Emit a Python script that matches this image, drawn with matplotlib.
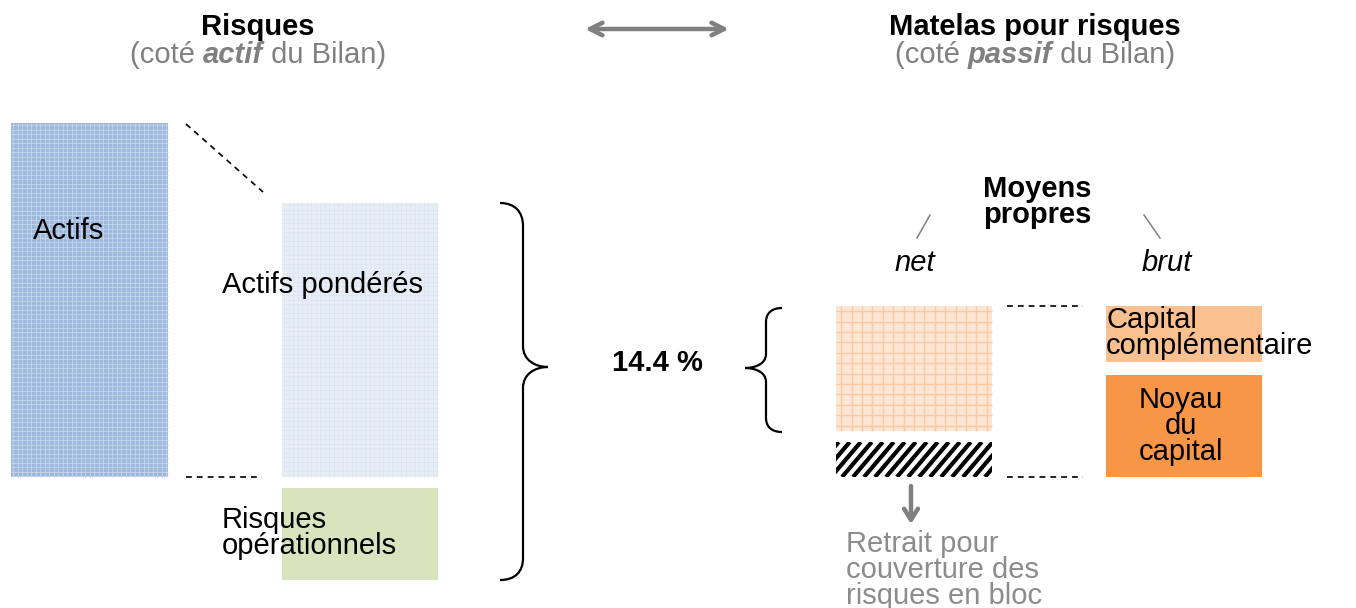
import matplotlib
matplotlib.use("Agg")
import matplotlib.pyplot as plt
from matplotlib.patches import Rectangle, PathPatch
from matplotlib.path import Path
import numpy as np

plt.rcParams['font.family'] = ['Liberation Sans', 'DejaVu Sans']

# ---------------- data / labels ----------------
title_left = "Risques"
subtitle_left = [("(coté ", "normal", "normal"), ("actif", "bold", "italic"), (" du Bilan)", "normal", "normal")]
title_right = "Matelas pour risques"
subtitle_right = [("(coté ", "normal", "normal"), ("passif", "bold", "italic"), (" du Bilan)", "normal", "normal")]
label_actifs = "Actifs"
label_ponderes = "Actifs pondérés"
label_oper = "Risques\nopérationnels"
ratio_label = "14.4 %"
label_moyens = "Moyens\npropres"
label_net = "net"
label_brut = "brut"
label_comp = "Capital\ncomplémentaire"
label_noyau = "Noyau\ndu\ncapital"
label_retrait = "Retrait pour\ncouverture des\nrisques en bloc"

FS = 21
LS = 0.92
GRAY = "#808080"

W, H = 1356, 608
fig = plt.figure(figsize=(W / 100, H / 100), dpi=100)
ax = fig.add_axes([0, 0, 1, 1])
ax.set_xlim(0, W)
ax.set_ylim(H, 0)
ax.axis('off')


def box(x0, y0, x1, y1, color, z=1):
    r = Rectangle((x0, y0), x1 - x0, y1 - y0, facecolor=color, edgecolor='none', zorder=z)
    ax.add_patch(r)
    return r


def grid_box(x0, y0, x1, y1, base, line, step, lw, alpha=1.0):
    box(x0, y0, x1, y1, base)
    xs = np.arange(x0 + step / 2, x1, step)
    ys = np.arange(y0 + step / 2, y1, step)
    ax.vlines(xs, y0, y1, colors=line, lw=lw, alpha=alpha, zorder=2)
    ax.hlines(ys, x0, x1, colors=line, lw=lw, alpha=alpha, zorder=2)


# Actifs (dense blue plaid)
grid_box(11, 123, 168, 477, "#9fb9de", "#c6d6ed", 4.5, 0.7, 0.85)
# Actifs pondérés (light blue fine grid)
grid_box(282, 203, 438, 477, "#e8eef8", "#dbe4f2", 4.5, 0.6, 0.8)
# Risques opérationnels
box(282, 488, 438, 580, "#d7e4bd")
# net box (orange grid)
grid_box(836, 306, 992, 431, "#fde5d3", "#fac9a2", 10.4, 1.0)
# hatched box
hb = box(836, 442, 992, 477, "white")
hh = 477 - 442
for xs in np.arange(836 - 60, 992 + 60, 11):
    ln, = ax.plot([xs, xs + 0.85 * hh], [477, 442], color='black', lw=3.0, solid_capstyle='butt', zorder=3)
    ln.set_clip_path(hb)
# brut boxes
box(1106, 306, 1262, 362, "#fac08f")
box(1106, 375, 1262, 477, "#f79646")

# dashed connectors
dash = dict(color='black', lw=1.2, ls=(0, (3.5, 3)), zorder=3)
ax.plot([186, 263], [124, 192], **dash)
ax.plot([186, 262], [477, 477], **dash)
ax.plot([1007, 1083], [306, 306], **dash)
ax.plot([1007, 1083], [477, 477], **dash)

# slashes
ax.plot([930, 917], [215, 238], color=GRAY, lw=1.1)
ax.plot([1144, 1160], [215, 238], color=GRAY, lw=1.1)

# braces
M, L, C = Path.MOVETO, Path.LINETO, Path.CURVE4
big = [(500, 203), (515, 203), (523, 212), (523, 226), (523, 346),
       (523, 360), (535, 367), (548, 367),
       (535, 367), (523, 374), (523, 388), (523, 558),
       (523, 572), (515, 580), (500, 580)]
codes = [M, C, C, C, L, C, C, C, C, C, C, L, C, C, C]
ax.add_patch(PathPatch(Path(big, codes), fill=False, lw=1.6, ec='black', zorder=4))
small = [(782, 308), (772, 308), (766, 313), (766, 322), (766, 354),
         (766, 364), (755, 368), (745, 368),
         (755, 368), (766, 372), (766, 382), (766, 418),
         (766, 427), (772, 432), (782, 432)]
ax.add_patch(PathPatch(Path(small, codes), fill=False, lw=1.6, ec='black', zorder=4))

# arrows
ax.annotate("", xy=(585, 29), xytext=(729, 29),
            arrowprops=dict(arrowstyle="<->,head_length=0.9,head_width=0.45", color=GRAY, lw=3.2,
                            shrinkA=0, shrinkB=0))
ax.annotate("", xy=(911, 524), xytext=(911, 486),
            arrowprops=dict(arrowstyle="->,head_length=0.8,head_width=0.5", color=GRAY, lw=3.2,
                            shrinkA=0, shrinkB=0))

# texts
T = dict(fontsize=FS, va='center', zorder=6)
ax.text(258, 27, title_left, ha='center', fontweight='bold', **T)
ax.text(1035, 27, title_right, ha='center', fontweight='bold', **T)

ax.text(33, 231, label_actifs, ha='left', **T)
ax.text(222, 285, label_ponderes, ha='left', **T)
ax.text(222, 533, label_oper, ha='left', linespacing=LS, **T)
ax.text(657, 363, ratio_label, ha='center', fontweight='bold', **T)
ax.text(1037, 202, label_moyens, ha='center', fontweight='bold', linespacing=LS, **T)
ax.text(915, 263, label_net, ha='center', style='italic', **T)
ax.text(1167, 263, label_brut, ha='center', style='italic', **T)
ax.text(1106, 333, label_comp, ha='left', linespacing=LS, **T)
ax.text(1181, 426, label_noyau, ha='center', linespacing=LS, multialignment='center', **T)
ax.text(846, 570, label_retrait, ha='left', color="#8c8c8c", linespacing=LS, **T)

# mixed-style subtitles
renderer = fig.canvas.get_renderer()


def rich_line(xc, y, parts, color):
    arts = []
    widths = []
    for s, w, st in parts:
        t = ax.text(0, y, s, fontsize=FS, fontweight=w, style=st, color=color, va='center', ha='left')
        bb = t.get_window_extent(renderer)
        arts.append(t)
        widths.append(bb.width)
    total = sum(widths)
    x = xc - total / 2
    for t, wd in zip(arts, widths):
        t.set_x(x)
        x += wd


rich_line(258, 55, subtitle_left, GRAY)
rich_line(1035, 55, subtitle_right, GRAY)

fig.savefig("out.png", dpi=100)
